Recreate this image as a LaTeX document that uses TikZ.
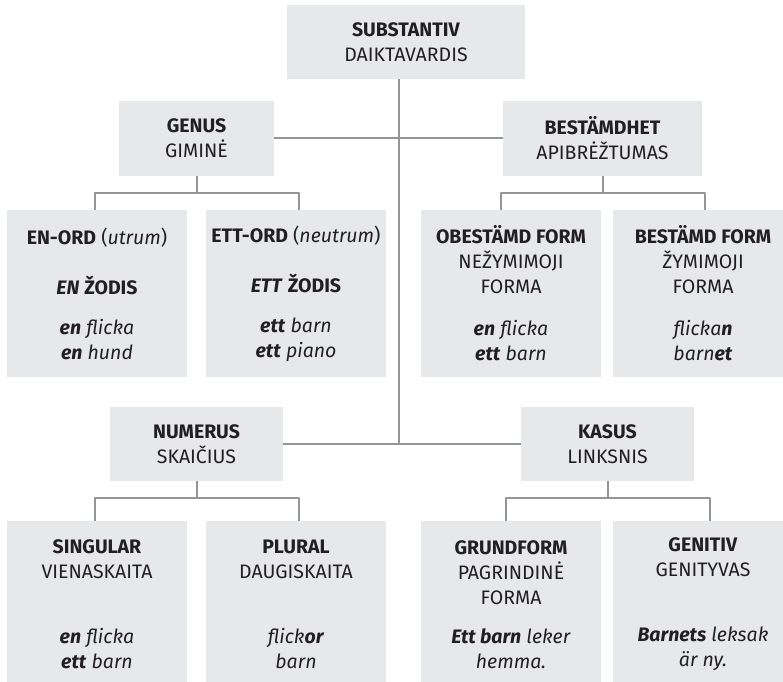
\documentclass[tikz,border=0pt]{standalone}
\usepackage{fontspec}
\setmainfont{Fira Sans}
\usetikzlibrary{calc}
\definecolor{boxgray}{RGB}{231,232,234}
\definecolor{linegray}{RGB}{147,149,153}
\definecolor{inkblack}{RGB}{35,31,32}

\begin{document}
\begin{tikzpicture}[
  x=1pt, y=-1pt,
  catbox/.style={fill=boxgray, inner sep=0pt, align=center, text=inkblack,
    font=\fontsize{19.5pt}{25pt}\selectfont, minimum height=74pt},
  leafbox/.style={catbox, minimum width=180pt, minimum height=167pt},
  link/.style={draw=linegray, line width=2pt, line join=round}
]
\useasboundingbox (0,0) rectangle (783,681);
\clip (0,0) rectangle (783,681);

% ---------------- Root ----------------
\node[catbox, minimum width=238pt] (subst) at (406,42)
  {\textbf{SUBSTANTIV}\\DAIKTAVARDIS};

% ---------------- Categories ----------------
\node[catbox, minimum width=155pt, minimum height=75pt] (genus) at (196.5,138)
  {\textbf{GENUS}\\GIMINĖ};
\node[catbox, minimum width=199pt, minimum height=75pt] (best) at (602.5,138)
  {\textbf{BESTÄMDHET}\\APIBRĖŽTUMAS};
\node[catbox, minimum width=173pt] (numerus) at (196.5,444)
  {\textbf{NUMERUS}\\SKAIČIUS};
\node[catbox, minimum width=173pt] (kasus) at (607.5,444)
  {\textbf{KASUS}\\LINKSNIS};

% ---------------- Upper leaves ----------------
\node[leafbox] (enord) at (97,293.5)
  {\textbf{EN-ORD} (\textit{utrum})\\[25pt]
   \textbf{\textit{EN}} \textbf{ŽODIS}\\[15pt]
   \textbf{\textit{en}} \textit{flicka}\\
   \textbf{\textit{en}} \textit{hund}};
\node[leafbox] (ettord) at (296,293.5)
  {\textbf{ETT-ORD} (\textit{neutrum})\\[25pt]
   \textbf{\textit{ETT}} \textbf{ŽODIS}\\[15pt]
   \textbf{\textit{ett}} \textit{barn}\\
   \textbf{\textit{ett}} \textit{piano}};
\node[leafbox] (obest) at (511,293.5)
  {\textbf{OBESTÄMD FORM}\\NEŽYMIMOJI\\FORMA\\[17pt]
   \textbf{\textit{en}} \textit{flicka}\\
   \textbf{\textit{ett}} \textit{barn}};
\node[leafbox] (bestf) at (703,293.5)
  {\textbf{BESTÄMD FORM}\\ŽYMIMOJI\\FORMA\\[17pt]
   \textit{flicka\textbf{n}}\\
   \textit{barn\textbf{et}}};

% ---------------- Lower leaves ----------------
\node[leafbox] (sing) at (97,604.5)
  {\textbf{SINGULAR}\\VIENASKAITA\\[40pt]
   \textbf{\textit{en}} \textit{flicka}\\
   \textbf{\textit{ett}} \textit{barn}};
\node[leafbox] (plur) at (296,604.5)
  {\textbf{PLURAL}\\DAUGISKAITA\\[40pt]
   \textit{flick\textbf{or}}\\
   \textit{barn}};
\node[leafbox] (grund) at (511,604.5)
  {\textbf{GRUNDFORM}\\PAGRINDINĖ\\FORMA\\[14pt]
   \textbf{\textit{Ett barn}} \textit{leker}\\
   \textit{hemma.}};
\node[leafbox] (genit) at (703,604.5)
  {\textbf{GENITIV}\\GENITYVAS\\[40pt]
   \textbf{\textit{Barnets}} \textit{leksak}\\
   \textit{är ny.}};

% ---------------- Trunk and branches ----------------
\coordinate (trunk) at (399,444);
\draw[link] (trunk |- subst.south) -- (trunk);
\draw[link] (genus.east) -- (genus.east -| trunk);
\draw[link] (best.west) -- (best.west -| trunk);
\draw[link] (numerus.east) -- (kasus.west);

% Forks from each category down to its two leaves
\foreach \p/\l/\r in {genus/enord/ettord, best/obest/bestf,
                      numerus/sing/plur, kasus/grund/genit} {
  \draw[link] (\p.south) -- ++(0,17) coordinate (fork\p);
  \path (fork\p) ++(-102,0) coordinate (left\p) ++(204,0) coordinate (right\p);
  \draw[link] (\l.north -| left\p) -- (left\p) -- (right\p) -- (\r.north -| right\p);
}

\end{tikzpicture}
\end{document}
